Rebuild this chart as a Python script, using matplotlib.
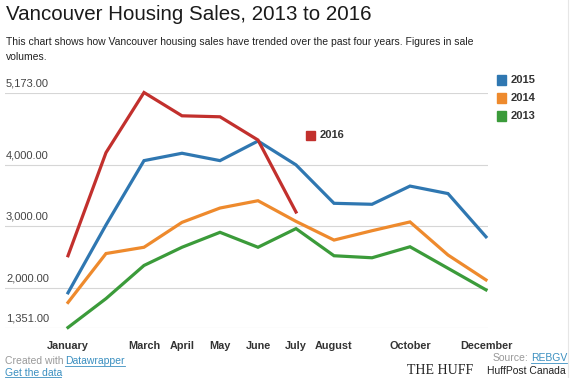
import numpy as np
import matplotlib
matplotlib.use('Agg')
import matplotlib.pyplot as plt
from matplotlib import transforms

plt.rcParams['font.family'] = ['Liberation Sans', 'DejaVu Sans']

# data (sale volumes)
months = ['January', 'February', 'March', 'April', 'May', 'June', 'July',
          'August', 'September', 'October', 'November', 'December']
shown_labels = ['January', '', 'March', 'April', 'May', 'June', 'July',
                'August', '', 'October', '', 'December']
sales_2016 = [2518, 4195, 5173, 4794, 4778, 4400, 3229]
sales_2015 = [1915, 3019, 4065, 4185, 4065, 4384, 3996, 3371, 3355, 3651, 3529, 2826]
sales_2014 = [1758, 2554, 2656, 3061, 3294, 3413, 3077, 2773, 2925, 3068, 2530, 2125]
sales_2013 = [1351, 1821, 2360, 2656, 2899, 2656, 2959, 2518, 2485, 2664, 2314, 1963]
y_ticks = [1351, 2000, 3000, 4000, 5173]

c16 = '#c2302d'
c15 = '#2f77b1'
c14 = '#ee8a2d'
c13 = '#3b9b3a'

W, H = 570, 378
fig = plt.figure(figsize=(W / 100, H / 100), dpi=100)


def fx(x):
    return x / W


def fy(y):
    return 1 - y / H


# plot area in pixel coords: x 5..488, y 92.5..327.5
ax = fig.add_axes([fx(5), fy(327.5), (488 - 5) / W, (327.5 - 92.5) / H])
x = np.arange(len(months))
lw = 2.3
ax.plot(x, sales_2013, color=c13, lw=lw, clip_on=False, solid_joinstyle='miter')
ax.plot(x, sales_2014, color=c14, lw=lw, clip_on=False, solid_joinstyle='miter')
ax.plot(x, sales_2015, color=c15, lw=lw, clip_on=False, solid_joinstyle='miter')
ax.plot(x[:len(sales_2016)], sales_2016, color=c16, lw=lw, clip_on=False,
        solid_joinstyle='miter')

ax.set_xlim((5 - 68) / 38, 11 + 2 / 38)
ax.set_ylim(y_ticks[0], y_ticks[-1])
for s in ax.spines.values():
    s.set_visible(False)
ax.set_yticks(y_ticks)
ax.set_yticklabels([])
ax.tick_params(axis='y', length=0)
ax.grid(axis='y', color='#d6d6d6', lw=0.8)
ax.set_axisbelow(True)
ax.set_xticks(x)
ax.set_xticklabels(shown_labels, fontsize=7.8, fontweight='bold', color='#333333')
ax.tick_params(axis='x', length=0, pad=10)

# y labels sit above their gridline
trans = transforms.blended_transform_factory(ax.transAxes, ax.transData)
trans = trans + transforms.ScaledTranslation(0, 3 / 72, fig.dpi_scale_trans)
for v in y_ticks:
    ax.text(0.002, v, f'{v:,.2f}', transform=trans, fontsize=8, color='#444444',
            ha='left', va='bottom')

# title and subtitle
fig.text(fx(6), fy(14), 'Vancouver Housing Sales, 2013 to 2016', fontsize=14.8,
         color='#1a1a1a', ha='left', va='center')
fig.text(fx(6), fy(42), 'This chart shows how Vancouver housing sales have trended '
         'over the past four years. Figures in sale', fontsize=7.5, color='#222222',
         ha='left', va='center')
fig.text(fx(6), fy(57), 'volumes.', fontsize=7.5, color='#222222', ha='left', va='center')

# legend
for yy, lab, col in [(80, '2015', c15), (98, '2014', c14), (116, '2013', c13)]:
    fig.patches.append(plt.Rectangle((fx(497), fy(yy + 4.5)), 9 / W, 9 / H,
                                     transform=fig.transFigure, color=col))
    fig.text(fx(511), fy(yy), lab, fontsize=8, fontweight='bold', color='#333333',
             ha='left', va='center')
fig.patches.append(plt.Rectangle((fx(306), fy(139.5)), 9 / W, 9 / H,
                                 transform=fig.transFigure, color=c16))
fig.text(fx(320), fy(135), '2016', fontsize=8, fontweight='bold', color='#333333',
         ha='left', va='center')

# footer
link = '#3a8fc0'
fig.text(fx(5), fy(361), 'Created with', fontsize=7.5, color='#999999', ha='left', va='center')
fig.text(fx(65), fy(361), 'Datawrapper', fontsize=7.5, color=link, ha='left', va='center')
fig.text(fx(5), fy(372.5), 'Get the data', fontsize=7.5, color=link, ha='left', va='center')
fig.lines.append(plt.Line2D([fx(65), fx(125)], [fy(366), fy(366)], color=link, lw=0.6,
                            transform=fig.transFigure))
fig.lines.append(plt.Line2D([fx(5), fx(61)], [fy(377), fy(377)], color=link, lw=0.6,
                            transform=fig.transFigure))
fig.text(fx(528), fy(358), 'Source:', fontsize=7.5, color='#999999', ha='right', va='center')
fig.text(fx(531), fy(358), 'REBGV', fontsize=7.5, color=link, ha='left', va='center')
fig.lines.append(plt.Line2D([fx(531), fx(567)], [fy(363), fy(363)], color=link, lw=0.6,
                            transform=fig.transFigure))

# watermark
fig.text(fx(407), fy(370), 'THE HUFF', fontsize=10, family='Liberation Serif',
         color='#222222', ha='left', va='center')
fig.text(fx(566), fy(371), 'HuffPost Canada', fontsize=7.5, color='#222222', ha='right',
         va='center', fontstretch='condensed')
fig.lines.append(plt.Line2D([fx(568), fx(568)], [fy(0), fy(378)], color='#e6e6e6', lw=0.8,
                            transform=fig.transFigure))

fig.savefig('out.png', dpi=100)
